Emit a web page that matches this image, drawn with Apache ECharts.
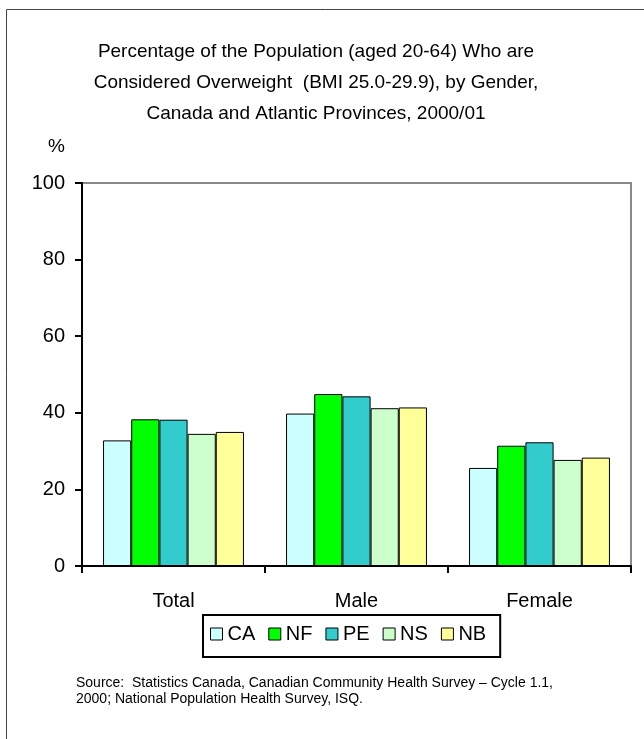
<!DOCTYPE html>
<html>
<head>
<meta charset="utf-8">
<script src="https://cdn.jsdelivr.net/npm/echarts@6/dist/echarts.min.js"></script>
<style>
html, body { margin: 0; padding: 0; background: #fff; }
#main { width: 644px; height: 739px; }
</style>
</head>
<body>
<div id="main"></div>
<script>
// 数据
var categories = ['Total', 'Male', 'Female'];
var seriesNames = ['CA', 'NF', 'PE', 'NS', 'NB'];
var valCA = [32.8, 39.8, 25.6];
var valNF = [38.3, 44.9, 31.4];
var valPE = [38.2, 44.3, 32.3];
var valNS = [34.5, 41.2, 27.7];
var valNB = [35.0, 41.4, 28.3];
var yTicks = [0, 20, 40, 60, 80, 100];

var colors = ['#CCFFFF', '#00FF00', '#33CCCC', '#CCFFCC', '#FFFF99'];
var allValues = [valCA, valNF, valPE, valNS, valNB];
var font = 'Liberation Sans, Arial, sans-serif';

var myChart = echarts.init(document.getElementById('main'));

var series = [];
for (var i = 0; i < seriesNames.length; i++) {
	series.push({
		name: seriesNames[i],
		type: 'bar',
		barGap: '0%',
		barCategoryGap: '23%',
		itemStyle: { color: colors[i], borderColor: '#000', borderWidth: 1 },
		data: allValues[i]
	});
}

var option = {
	animation: false,
	textStyle: { fontFamily: font },
	title: [{
		text: 'Percentage of the Population (aged 20-64) Who are\nConsidered Overweight  (BMI 25.0-29.9), by Gender,\nCanada and Atlantic Provinces, 2000/01',
		left: 311,
		top: 31,
		textAlign: 'center',
		textStyle: { fontFamily: font, fontSize: 19, fontWeight: 'normal', color: '#000', lineHeight: 31 }
	}, {
		text: '%',
		left: 43,
		top: 132,
		textStyle: { fontFamily: font, fontSize: 19, fontWeight: 'normal', color: '#000' }
	}, {
		text: 'Source:  Statistics Canada, Canadian Community Health Survey \u2013 Cycle 1.1,\n2000; National Population Health Survey, ISQ.',
		left: 71,
		top: 670,
		textStyle: { fontFamily: font, fontSize: 14, fontWeight: 'normal', color: '#000', lineHeight: 16 }
	}],
	graphic: [{
		type: 'rect',
		shape: { x: 6.5, y: 9.5, width: 700, height: 760 },
		style: { fill: 'none', stroke: '#444', lineWidth: 1 },
		silent: true
	}],
	grid: {
		left: 82, right: 13, top: 183, bottom: 173,
		show: true,
		borderColor: '#888',
		borderWidth: 2,
		backgroundColor: 'transparent'
	},
	legend: {
		data: seriesNames,
		left: 203,
		top: 615,
		orient: 'horizontal',
		icon: 'rect',
		itemWidth: 12,
		itemHeight: 12,
		itemGap: 13,
		padding: [9, 14, 13, 7],
		borderColor: '#000',
		borderWidth: 2,
		itemStyle: { borderColor: '#000', borderWidth: 1 },
		textStyle: { fontFamily: font, fontSize: 20, color: '#000' }
	},
	xAxis: {
		type: 'category',
		data: categories,
		axisLine: { lineStyle: { color: '#000', width: 2 } },
		axisTick: { show: true, length: 7, lineStyle: { color: '#000', width: 2 } },
		axisLabel: { fontFamily: font, fontSize: 20, color: '#000', margin: 25 }
	},
	yAxis: {
		type: 'value',
		min: yTicks[0],
		max: yTicks[yTicks.length - 1],
		interval: 20,
		axisLine: { show: true, lineStyle: { color: '#000', width: 2 } },
		axisTick: { show: true, length: 7, lineStyle: { color: '#000', width: 2 } },
		splitLine: { show: false },
		axisLabel: { fontFamily: font, fontSize: 20, color: '#000', margin: 17 }
	},
	series: series
};

myChart.setOption(option);
</script>
</body>
</html>
